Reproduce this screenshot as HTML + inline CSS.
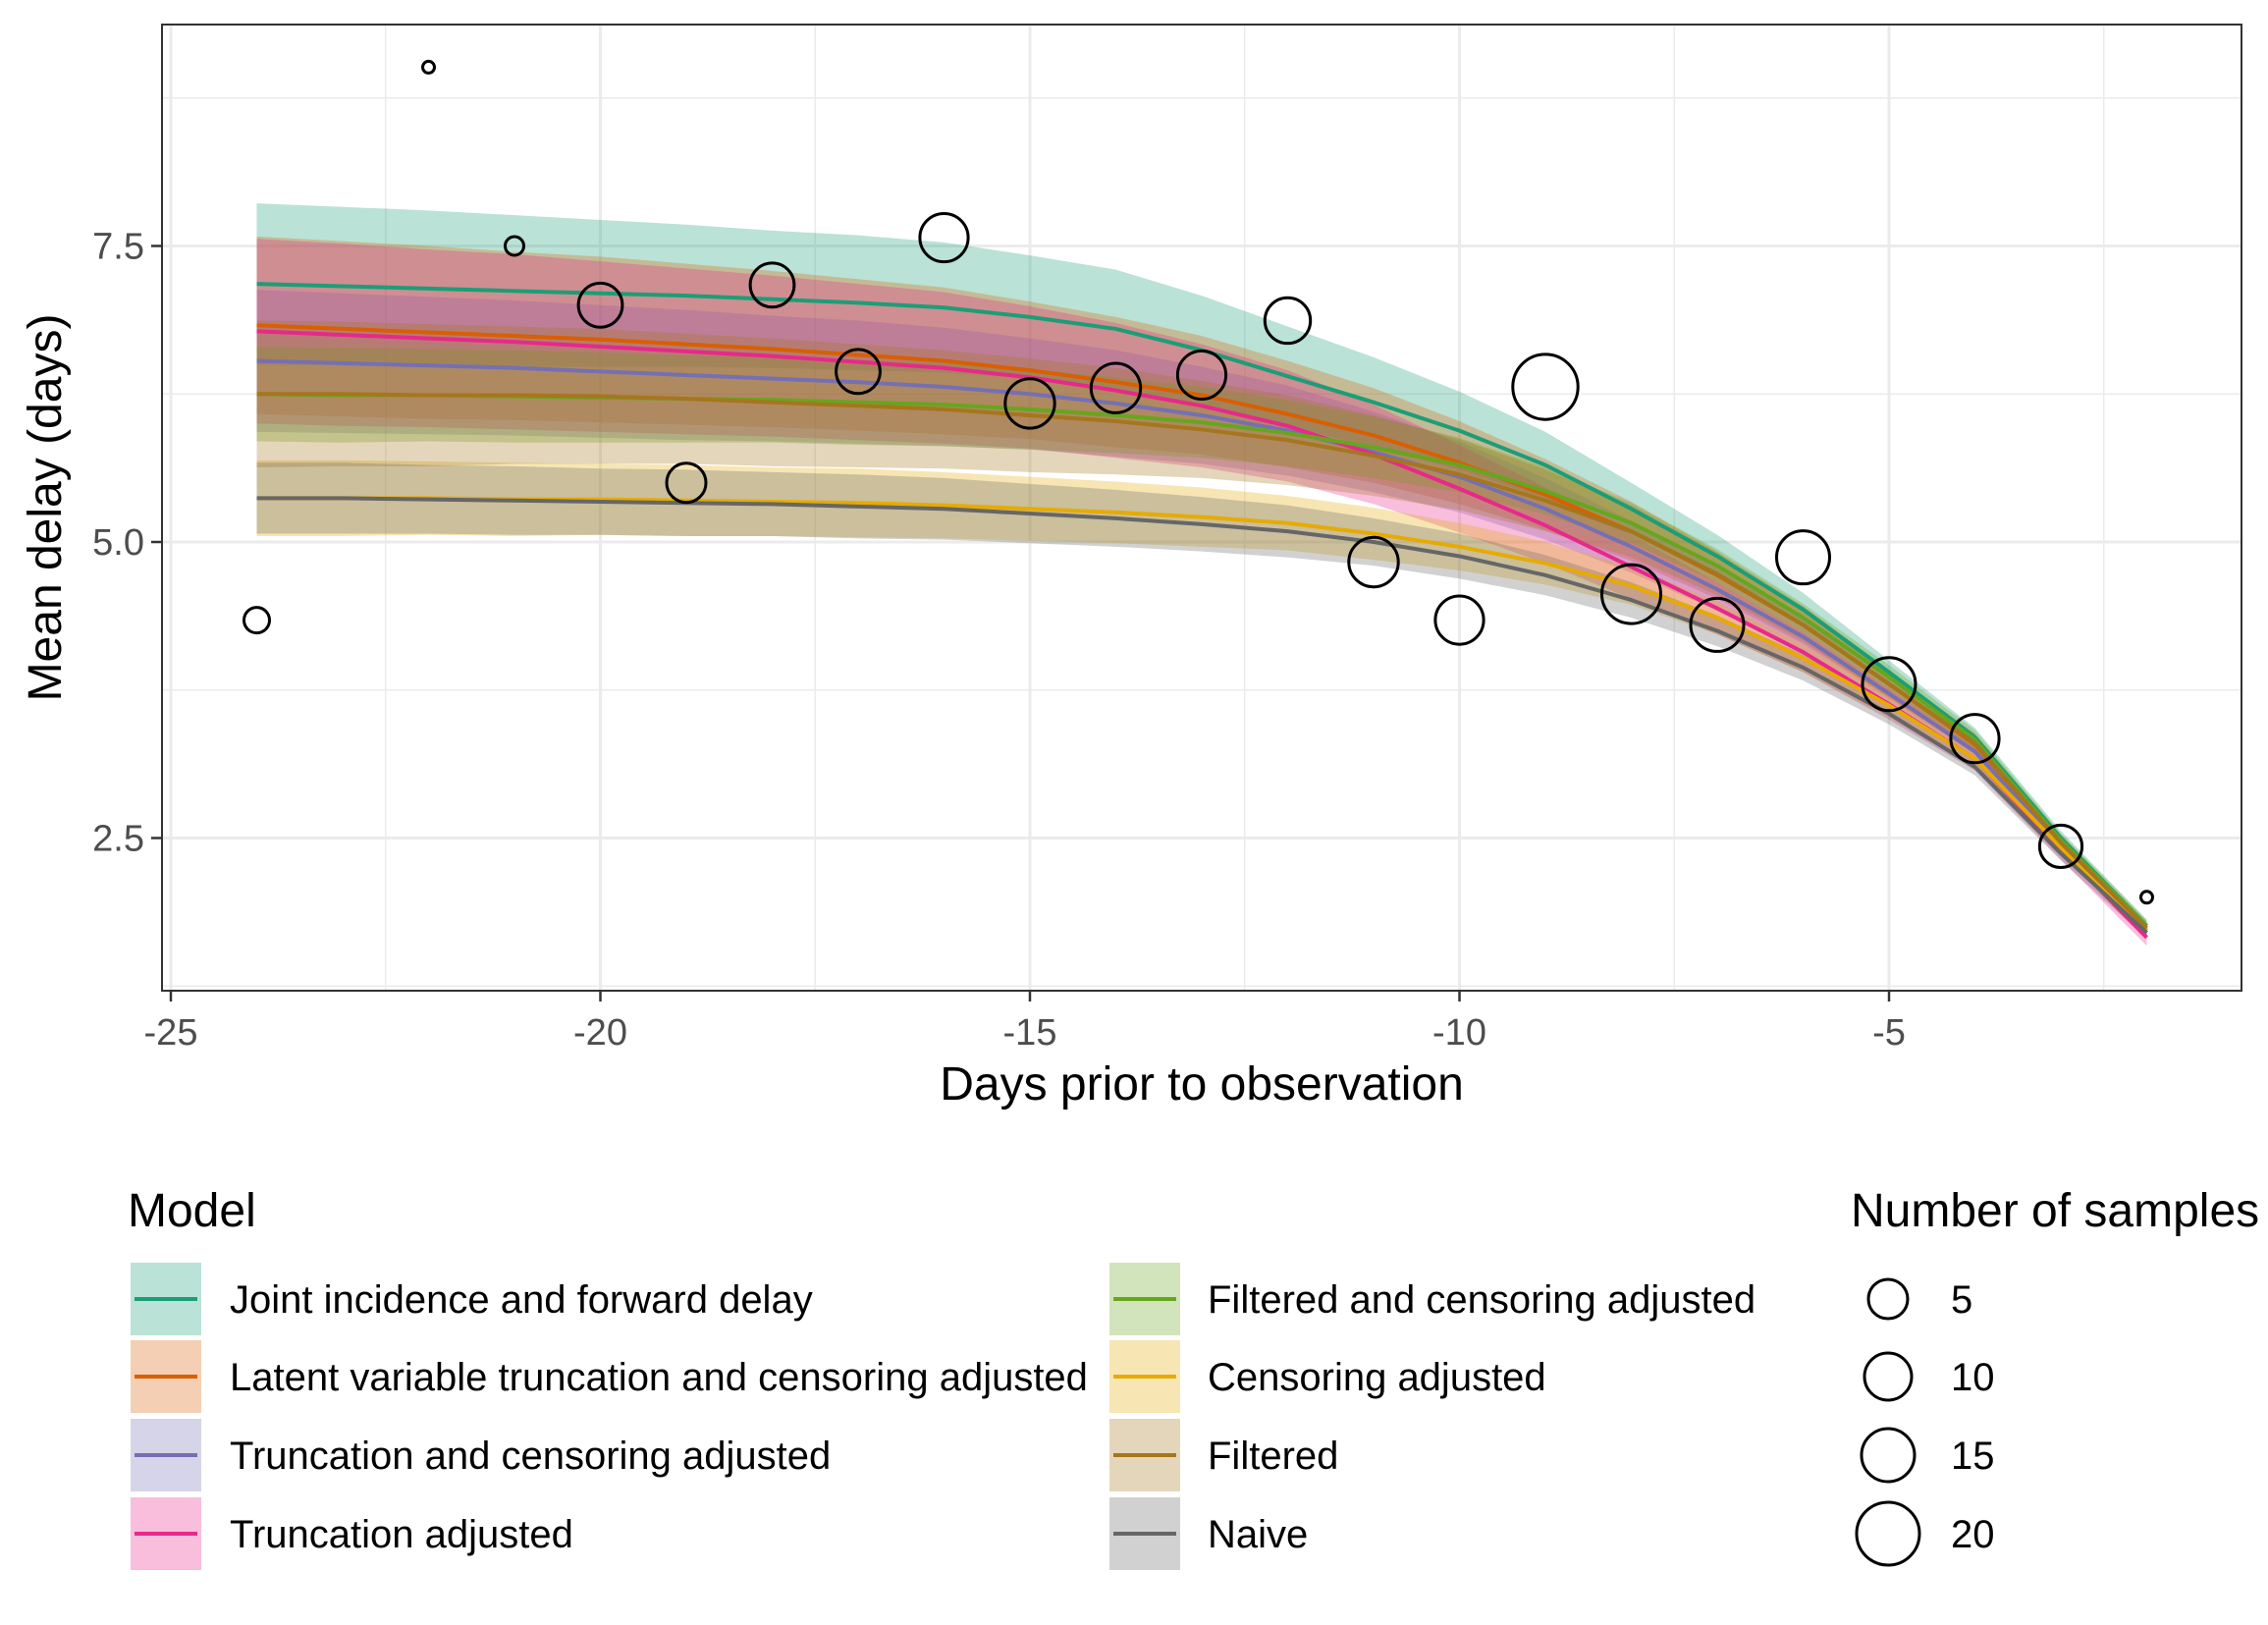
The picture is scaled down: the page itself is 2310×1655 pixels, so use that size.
<!DOCTYPE html>
<html><head><meta charset="utf-8"><style>
html,body{margin:0;padding:0;background:#fff;}
svg text{font-family:"Liberation Sans",Arial,sans-serif;}
</style></head><body>
<svg id="chart" xmlns="http://www.w3.org/2000/svg" width="2310" height="1650" viewBox="0 0 2310 1650">
<rect x="0" y="0" width="2310" height="1650" fill="#fff"/>
<g id="grid"></g>
<g id="ribbons"></g>
<g id="lines"></g>
<g id="points"></g>
<rect x="165" y="25" width="2118" height="984" fill="none" stroke="#333" stroke-width="2"/>
<g id="axes"></g>
<text x="1224" y="1120" font-size="48" text-anchor="middle" fill="#000">Days prior to observation</text>
<text transform="translate(62,517) rotate(-90)" font-size="48" text-anchor="middle" fill="#000">Mean delay (days)</text>
<g id="legend">
<text x="130" y="1249" font-size="48" fill="#000">Model</text>
</g>
<g id="sizeLegend">
<text x="1885" y="1249" font-size="48" fill="#000">Number of samples</text>
</g>
</svg>
<script>
const days = [-24,-23,-22,-21,-20,-19,-18,-17,-16,-15,-14,-13,-12,-11,-10,-9,-8,-7,-6,-5,-4,-3,-2];
const modelNames = ["Joint incidence and forward delay","Latent variable truncation and censoring adjusted","Truncation and censoring adjusted","Truncation adjusted","Filtered and censoring adjusted","Censoring adjusted","Filtered","Naive"];
const jointMean  = [7.18,7.16,7.14,7.12,7.10,7.08,7.05,7.02,6.98,6.90,6.80,6.62,6.40,6.18,5.94,5.65,5.28,4.88,4.43,3.90,3.35,2.50,1.76];
const latentMean = [6.83,6.80,6.77,6.74,6.71,6.67,6.63,6.58,6.53,6.45,6.35,6.24,6.08,5.90,5.67,5.40,5.09,4.72,4.30,3.80,3.29,2.46,1.72];
const truncCensMean = [6.53,6.51,6.49,6.47,6.44,6.41,6.38,6.35,6.31,6.25,6.17,6.07,5.94,5.76,5.55,5.28,4.96,4.60,4.20,3.72,3.23,2.43,1.70];
const truncMean  = [6.78,6.75,6.72,6.69,6.65,6.61,6.57,6.52,6.47,6.39,6.28,6.15,5.98,5.74,5.45,5.14,4.79,4.44,4.07,3.63,3.17,2.40,1.66];
const filtCensMean = [6.25,6.24,6.24,6.23,6.22,6.21,6.20,6.18,6.16,6.12,6.07,6.01,5.92,5.80,5.65,5.43,5.16,4.80,4.36,3.86,3.33,2.48,1.76];
const censMean   = [5.37,5.37,5.37,5.36,5.36,5.35,5.34,5.33,5.31,5.28,5.25,5.21,5.16,5.07,4.96,4.82,4.63,4.36,4.02,3.62,3.17,2.42,1.72];
const filtMean   = [6.25,6.25,6.24,6.24,6.23,6.21,6.18,6.15,6.12,6.07,6.02,5.95,5.86,5.73,5.57,5.35,5.09,4.73,4.30,3.80,3.30,2.46,1.74];
const naiveMean  = [5.37,5.37,5.36,5.35,5.34,5.33,5.32,5.30,5.28,5.24,5.20,5.15,5.09,5.00,4.88,4.72,4.51,4.25,3.94,3.55,3.10,2.37,1.70];
const jointHW  = [0.68,0.67,0.66,0.64,0.62,0.60,0.58,0.57,0.55,0.52,0.50,0.46,0.42,0.38,0.33,0.28,0.22,0.18,0.14,0.10,0.08,0.06,0.05];
const latentHW = [0.75,0.74,0.73,0.71,0.70,0.68,0.66,0.64,0.62,0.58,0.55,0.50,0.45,0.40,0.35,0.30,0.25,0.20,0.16,0.12,0.09,0.07,0.06];
const truncCensHW = [0.60,0.59,0.58,0.57,0.56,0.55,0.53,0.52,0.50,0.47,0.45,0.41,0.38,0.34,0.30,0.26,0.22,0.18,0.14,0.11,0.08,0.06,0.05];
const truncHW  = [0.78,0.77,0.75,0.74,0.72,0.70,0.68,0.66,0.64,0.60,0.57,0.52,0.47,0.42,0.37,0.32,0.27,0.22,0.17,0.13,0.10,0.08,0.07];
const filtCensHW = [0.40,0.40,0.39,0.39,0.38,0.37,0.36,0.36,0.35,0.34,0.32,0.30,0.28,0.26,0.23,0.20,0.17,0.14,0.12,0.10,0.08,0.06,0.05];
const censHW   = [0.32,0.32,0.31,0.31,0.30,0.30,0.29,0.29,0.28,0.27,0.26,0.25,0.23,0.22,0.20,0.18,0.16,0.14,0.12,0.10,0.08,0.06,0.05];
const filtHW   = [0.62,0.61,0.60,0.58,0.57,0.55,0.54,0.52,0.50,0.48,0.45,0.41,0.38,0.34,0.30,0.26,0.22,0.18,0.14,0.11,0.08,0.06,0.05];
const naiveHW  = [0.30,0.30,0.29,0.29,0.28,0.28,0.27,0.27,0.26,0.25,0.24,0.23,0.22,0.20,0.19,0.17,0.15,0.13,0.11,0.09,0.07,0.06,0.05];
const obsDays = [-24,-22,-21,-20,-19,-18,-17,-16,-15,-14,-13,-12,-11,-10,-9,-8,-7,-6,-5,-4,-3,-2];
const obsMean = [4.34,9.01,7.50,7.00,5.50,7.17,6.44,7.57,6.17,6.30,6.41,6.87,4.83,4.34,6.31,4.56,4.30,4.87,3.80,3.34,2.43,2.00];
const obsN    = [3,1,2,8,5,8,8,11,12,12,11,9,12,11,22,18,15,15,15,11,7,1];
const xTicks = [-25,-20,-15,-10,-5];
const xTickLabels = ["-25","-20","-15","-10","-5"];
const yTicks = [2.5,5.0,7.5];
const yTickLabels = ["2.5","5.0","7.5"];
const sizeBreaks = [5,10,15,20];
const sizeBreakLabels = ["5","10","15","20"];

const colors = ["#1b9e77","#d95f02","#7570b3","#e7298a","#66a61e","#e6ab02","#a6761d","#666666"];
const means = [jointMean,latentMean,truncCensMean,truncMean,filtCensMean,censMean,filtMean,naiveMean];
const hws = [jointHW,latentHW,truncCensHW,truncHW,filtCensHW,censHW,filtHW,naiveHW];
const drawOrder = [0,1,2,3,4,5,6,7];
const NS="http://www.w3.org/2000/svg";
const X = d => 174 + (d + 25) * 87.5;
const Y = v => 552 - (v - 5) * 120.6;
const R = n => { const nn=[1,5,10,15,20,25], rr=[6,20,24,27,32,35];
  for(let i=0;i<nn.length-1;i++){ if(n<=nn[i+1]) return rr[i]+(rr[i+1]-rr[i])*(n-nn[i])/(nn[i+1]-nn[i]); } return 35; };
function mk(tag, attrs, parent){ const e=document.createElementNS(NS,tag); for(const k in attrs) e.setAttribute(k,attrs[k]); parent.appendChild(e); return e; }

const grid=document.getElementById('grid');
[-22.5,-17.5,-12.5,-7.5,-2.5].forEach(d=>{ const l=mk('line',{x1:X(d),x2:X(d),y1:25,y2:1009,stroke:'#ebebeb','stroke-width':1.5},grid);
  
   });
[1.25,3.75,6.25,8.75].forEach(v=>{ const l=mk('line',{x1:165,x2:2283,y1:Y(v),y2:Y(v),stroke:'#ebebeb','stroke-width':1.5},grid);
  
   });
xTicks.forEach(d=>{ const l=mk('line',{x1:X(d),x2:X(d),y1:25,y2:1009,stroke:'#ebebeb','stroke-width':3},grid);
  
   });
yTicks.forEach(v=>{ const l=mk('line',{x1:165,x2:2283,y1:Y(v),y2:Y(v),stroke:'#ebebeb','stroke-width':3},grid);
  
   });

const rib=document.getElementById('ribbons'), lin=document.getElementById('lines');
drawOrder.forEach(m=>{
  let up=days.map((d,i)=>X(d)+','+Y(means[m][i]+hws[m][i]));
  let dn=days.map((d,i)=>X(d)+','+Y(means[m][i]-hws[m][i])).reverse();
  const p=mk('polygon',{points:up.concat(dn).join(' '),fill:colors[m],'fill-opacity':0.3,stroke:'none'},rib);
  
  
});
drawOrder.forEach(m=>{
  const pl=mk('polyline',{points:days.map((d,i)=>X(d)+','+Y(means[m][i])).join(' '),fill:'none',stroke:colors[m],'stroke-width':4,'stroke-linejoin':'round'},lin);
  
  
});
const pts=document.getElementById('points');
obsDays.forEach((d,i)=>{
  const c=mk('circle',{cx:X(d),cy:Y(obsMean[i]),r:R(obsN[i]),fill:'none',stroke:'#000','stroke-width':3},pts);
  
  
});
const ax=document.getElementById('axes');
xTicks.forEach((d,i)=>{
  const t=mk('line',{x1:X(d),x2:X(d),y1:1009,y2:1020,stroke:'#333','stroke-width':2.5},ax);
  
  
  const tx=mk('text',{x:X(d),y:1064,'font-size':38,'text-anchor':'middle',fill:'#4d4d4d'},ax);
  tx.textContent=xTickLabels[i];
  
  
});
yTicks.forEach((v,i)=>{
  const t=mk('line',{x1:154,x2:165,y1:Y(v),y2:Y(v),stroke:'#333','stroke-width':2.5},ax);
  
  
  const tx=mk('text',{x:147,y:Y(v)+13,'font-size':38,'text-anchor':'end',fill:'#4d4d4d'},ax);
  tx.textContent=yTickLabels[i];
  
  
});
const lg=document.getElementById('legend');
const rowY=[1323,1402,1482,1562];
modelNames.forEach((name,m)=>{
  const col=Math.floor(m/4), row=m%4;
  const kx=col?1130:133, tx=col?1230:234, cy=rowY[row];
  const g=mk('g',{},lg);
  
  
  mk('rect',{x:kx,y:cy-37,width:72,height:74,fill:colors[m],'fill-opacity':0.3},g);
  mk('line',{x1:kx+4,x2:kx+68,y1:cy,y2:cy,stroke:colors[m],'stroke-width':4},g);
  const t=mk('text',{x:tx,y:cy+14,'font-size':40,fill:'#000'},g);
  t.textContent=name;
});
const sl=document.getElementById('sizeLegend');
sizeBreaks.forEach((n,i)=>{
  const c=mk('circle',{cx:1923,cy:rowY[i],r:R(n),fill:'none',stroke:'#000','stroke-width':3},sl);
  
  
  const t=mk('text',{x:1987,y:rowY[i]+14,'font-size':40,fill:'#000'},sl);
  t.textContent=sizeBreakLabels[i];
  
  
});
</script>
</body></html>
